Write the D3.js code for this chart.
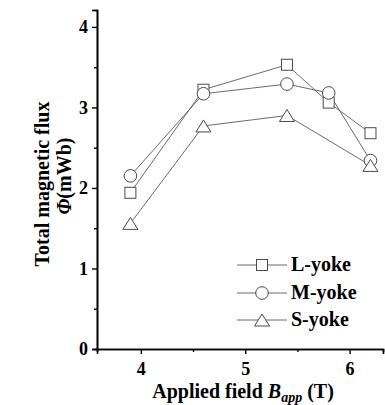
<!DOCTYPE html>
<html>
<head>
<meta charset="utf-8">
<script src="https://cdn.jsdelivr.net/npm/d3@7"></script>
<style>
  html, body { margin: 0; padding: 0; background: #fff; }
  svg { display: block; }
</style>
</head>
<body>
<svg id="chart" width="385" height="405"></svg>
<script>
// Applied field (T) for each measurement
const fieldL = [3.9, 4.6, 5.4, 5.8, 6.2];
const fieldM = [3.9, 4.6, 5.4, 5.8, 6.2];
const fieldS = [3.9, 4.6, 5.4, 6.2];
// Total magnetic flux (mWb)
const fluxL = [1.94, 3.22, 3.53, 3.06, 2.68];
const fluxM = [2.15, 3.17, 3.29, 3.18, 2.34];
const fluxS = [1.56, 2.77, 2.90, 2.28];
const seriesNames = ["L-yoke", "M-yoke", "S-yoke"];
const xTicks = [4, 5, 6];
const yTicks = [0, 1, 2, 3, 4];

const FONT = "'Liberation Serif', 'Times New Roman', serif";
const svg = d3.select("#chart");
const plotLeft = 97, plotRight = 383, plotTop = 10, plotBottom = 349;

const x = d3.scaleLinear().domain([3.58, 6.32]).range([plotLeft, plotRight]);
const y = d3.scaleLinear().domain([0, 4.21]).range([plotBottom, plotTop]);

const lineColor = "#5a5a5a";
const markColor = "#4a4a4a";

// Axes with major and minor ticks
const xAxis = d3.axisBottom(x).tickValues(xTicks).tickFormat(d3.format("d")).tickSize(5).tickPadding(8);
const xMinor = d3.axisBottom(x).tickValues([4.5, 5.5]).tickFormat("").tickSize(3);
const yAxis = d3.axisLeft(y).tickValues(yTicks).tickFormat(d3.format("d")).tickSize(5).tickPadding(4);
const yMinor = d3.axisLeft(y).tickValues([0.5, 1.5, 2.5, 3.5]).tickFormat("").tickSize(3);

function styleAxis(g) {
  g.select(".domain").attr("stroke", "#000").attr("stroke-width", 1.6);
  g.selectAll(".tick line").attr("stroke", "#000").attr("stroke-width", 1.4);
  g.selectAll(".tick text")
    .attr("fill", "#000")
    .style("font-family", FONT)
    .style("font-size", "18px")
    .style("font-weight", "bold");
}

svg.append("g").attr("transform", `translate(0,${plotBottom})`).call(xMinor).call(styleAxis);
svg.append("g").attr("transform", `translate(0,${plotBottom})`).call(xAxis).call(styleAxis);
svg.append("g").attr("transform", `translate(${plotLeft},0)`).call(yMinor).call(styleAxis);
svg.append("g").attr("transform", `translate(${plotLeft},0)`).call(yAxis).call(styleAxis);

// Series
const series = [
  { name: seriesNames[0], xs: fieldL, ys: fluxL, shape: "square" },
  { name: seriesNames[1], xs: fieldM, ys: fluxM, shape: "circle" },
  { name: seriesNames[2], xs: fieldS, ys: fluxS, shape: "triangle" }
];

function drawMarker(g, shape, cx, cy) {
  if (shape === "square") {
    g.append("rect").attr("x", cx - 5.5).attr("y", cy - 5.5).attr("width", 11).attr("height", 11)
      .attr("fill", "#fff").attr("stroke", markColor).attr("stroke-width", 1);
  } else if (shape === "circle") {
    g.append("circle").attr("cx", cx).attr("cy", cy).attr("r", 6.3)
      .attr("fill", "#fff").attr("stroke", markColor).attr("stroke-width", 1);
  } else {
    const w = 7.5, h = 12;
    g.append("path")
      .attr("d", `M${cx},${cy - h / 2}L${cx + w},${cy + h / 2}L${cx - w},${cy + h / 2}Z`)
      .attr("fill", "#fff").attr("stroke", markColor).attr("stroke-width", 1);
  }
}

const line = d3.line().x(d => x(d[0])).y(d => y(d[1]));

series.forEach(s => {
  const pts = s.xs.map((v, i) => [v, s.ys[i]]);
  svg.append("path").datum(pts).attr("d", line)
    .attr("fill", "none").attr("stroke", lineColor).attr("stroke-width", 0.9);
});
series.forEach(s => {
  const g = svg.append("g");
  s.xs.forEach((v, i) => drawMarker(g, s.shape, x(v), y(s.ys[i])));
});

// Legend
const legY = [265, 293, 320];
series.forEach((s, i) => {
  const g = svg.append("g");
  g.append("line").attr("x1", 237).attr("x2", 287).attr("y1", legY[i]).attr("y2", legY[i])
    .attr("stroke", lineColor).attr("stroke-width", 0.9);
  drawMarker(g, s.shape, 262, legY[i]);
  g.append("text").attr("x", 291).attr("y", legY[i] + 6)
    .style("font-family", FONT)
    .style("font-size", "20px").style("font-weight", "bold").attr("fill", "#000")
    .text(s.name);
});

// Axis titles
const xt = svg.append("text").attr("x", 243).attr("y", 398).attr("text-anchor", "middle")
  .style("font-family", FONT)
  .style("font-size", "20px").style("font-weight", "bold").attr("fill", "#000");
xt.append("tspan").text("Applied field ");
xt.append("tspan").style("font-style", "italic").text("B");
xt.append("tspan").style("font-style", "italic").style("font-size", "14px").attr("dy", 4).text("app");
xt.append("tspan").attr("dy", -4).text(" (T)");

svg.append("text")
  .attr("transform", "translate(49,184) rotate(-90)")
  .attr("text-anchor", "middle")
  .style("font-family", FONT)
  .style("font-size", "20px").style("font-weight", "bold").attr("fill", "#000")
  .text("Total magnetic flux");
const yt2 = svg.append("text")
  .attr("transform", "translate(71,176) rotate(-90)")
  .attr("text-anchor", "middle")
  .style("font-family", FONT)
  .style("font-size", "20px").style("font-weight", "bold").attr("fill", "#000");
yt2.append("tspan").style("font-style", "italic").text("Φ");
yt2.append("tspan").text("(mWb)");
</script>
</body>
</html>
